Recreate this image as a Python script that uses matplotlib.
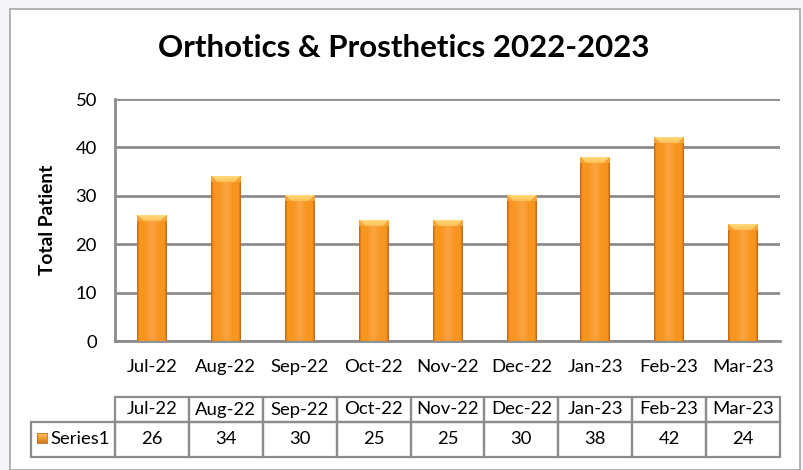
import numpy as np
import matplotlib
matplotlib.use("Agg")
import matplotlib.pyplot as plt
from matplotlib.patches import Rectangle
from matplotlib.transforms import blended_transform_factory
import matplotlib.colors as mcolors

categories = ["Jul-22", "Aug-22", "Sep-22", "Oct-22", "Nov-22", "Dec-22", "Jan-23", "Feb-23", "Mar-23"]
values = [26, 34, 30, 25, 25, 30, 38, 42, 24]
series_name = "Series1"
title = "Orthotics & Prosthetics 2022-2023"
ylabel = "Total Patient"
yticks = [0, 10, 20, 30, 40, 50]

plt.rcParams['font.family'] = ['Lato', 'DejaVu Sans']

W, H = 804, 470
fig = plt.figure(figsize=(W / 100, H / 100), dpi=100)
fig.patch.set_facecolor('#f3f3f8')

def fx(px):
    return px / W

def fy(py):
    return 1 - py / H

FS = 13.3

# chart frame
fig.patches.append(Rectangle((fx(10), 0), fx(800) - fx(10), fy(9), transform=fig.transFigure,
                             facecolor='white', edgecolor='#a6a6a6', lw=1.2, zorder=-5))

ax = fig.add_axes([fx(115), fy(341), fx(780) - fx(115), fy(99) - fy(341)])
ax.set_zorder(2)
ax.set_facecolor('none')
x = np.arange(len(categories))
ax.set_xlim(-0.5, len(categories) - 0.5)
ax.set_ylim(0, 50)
ax.set_yticks(yticks)
ax.yaxis.grid(True, color='#8c8c8c', lw=2.0)
ax.set_axisbelow(True)
for s in ['top', 'right']:
    ax.spines[s].set_visible(False)
ax.spines['left'].set_color('#8c8c8c')
ax.spines['left'].set_linewidth(2.0)
ax.spines['bottom'].set_color('#8c8c8c')
ax.spines['bottom'].set_linewidth(2.0)
ax.tick_params(axis='both', length=0, labelsize=FS, colors='black')
ax.tick_params(axis='y', pad=13)
ax.tick_params(axis='x', pad=13)
ax.set_xticks(x)
ax.set_xticklabels(categories)
ax.set_ylabel(ylabel, fontsize=13.8, fontweight='bold', labelpad=14)

bars = ax.bar(x, values, width=0.4, color='#f7931e', edgecolor='none', zorder=2)

# gradient fill
edge = np.array(mcolors.to_rgb('#c86d17'))
mid = np.array(mcolors.to_rgb('#f8951f'))
center = np.array(mcolors.to_rgb('#fca444'))
top_c = np.array(mcolors.to_rgb('#ffd877'))
side_c = np.array(mcolors.to_rgb('#f6a43a'))

fig.canvas.draw()
for b in bars:
    x0, y0 = b.get_x(), b.get_y()
    w, h = b.get_width(), b.get_height()
    p0 = ax.transData.transform((x0, y0))
    p1 = ax.transData.transform((x0 + w, y0 + h))
    wp = max(int(round(p1[0] - p0[0])), 2)
    hp = max(int(round(p1[1] - p0[1])), 2)
    t = np.linspace(0, 1, wp)
    d = np.abs(t - 0.5) * 2  # 0 center, 1 edges
    cols = np.empty((wp, 3))
    for i, dv in enumerate(d):
        if dv < 0.5:
            cols[i] = center + (mid - center) * (dv / 0.5)
        elif dv < 0.85:
            cols[i] = mid
        else:
            cols[i] = mid + (edge - mid) * ((dv - 0.85) / 0.15)
    img = np.tile(cols[None, :, :], (hp, 1, 1))
    bev = 6
    for r in range(min(bev, hp)):
        inset = int(round((r + 1) * 1.0))
        for c in range(wp):
            if inset <= c < wp - inset:
                img[r, c] = top_c * (1 - r / bev * 0.4) + mid * (r / bev * 0.4)
            else:
                img[r, c] = side_c
    ax.imshow(img, extent=(x0, x0 + w, y0, y0 + h), aspect='auto', zorder=3,
              interpolation='bilinear', clip_path=b, clip_on=True)

ax.set_xlim(-0.5, len(categories) - 0.5)
ax.set_ylim(0, 50)

fig.text(fx(404), fy(48), title, ha='center', va='center', fontsize=22.5, fontweight='bold')

# data table
trans = blended_transform_factory(ax.transData, fig.transFigure)
gray = '#8c8c8c'
hy0, hy1 = fy(422), fy(397)
dy0, dy1 = fy(457), fy(422)
for i, (c, v) in enumerate(zip(categories, values)):
    ax.add_patch(Rectangle((i - 0.5, hy0), 1, hy1 - hy0, transform=trans, fill=False,
                           edgecolor=gray, lw=1.6, clip_on=False))
    ax.add_patch(Rectangle((i - 0.5, dy0), 1, dy1 - dy0, transform=trans, fill=False,
                           edgecolor=gray, lw=1.6, clip_on=False))
    ax.text(i, (hy0 + hy1) / 2, c, transform=trans, ha='center', va='center', fontsize=FS)
    ax.text(i, (dy0 + dy1) / 2, str(v), transform=trans, ha='center', va='center', fontsize=FS)

fig.patches.append(Rectangle((fx(31), dy0), fx(115) - fx(31), dy1 - dy0, transform=fig.transFigure,
                             fill=False, edgecolor=gray, lw=1.6))
# legend key with vertical gradient
kx0, kx1, ky0, ky1 = fx(37), fx(47), fy(443), fy(433)
grad = np.linspace(0, 1, 10)[:, None]
key_cols = np.array([mcolors.to_rgb('#ffc45a') * 1]) 
top_k = np.array(mcolors.to_rgb('#ffc45a'))
bot_k = np.array(mcolors.to_rgb('#d9761a'))
key_img = (top_k[None, None, :] * (1 - grad[:, :, None]) + bot_k[None, None, :] * grad[:, :, None])
key_img = np.repeat(key_img, 10, axis=1)
kax = fig.add_axes([kx0, ky0, kx1 - kx0, ky1 - ky0])
kax.imshow(key_img, aspect='auto', interpolation='bilinear')
kax.set_xticks([]); kax.set_yticks([])
for s in kax.spines.values():
    s.set_color('#c86d17'); s.set_linewidth(0.6)
fig.text(fx(50), (dy0 + dy1) / 2, series_name, ha='left', va='center', fontsize=FS)

fig.savefig('out.png', dpi=100, facecolor=fig.get_facecolor())
